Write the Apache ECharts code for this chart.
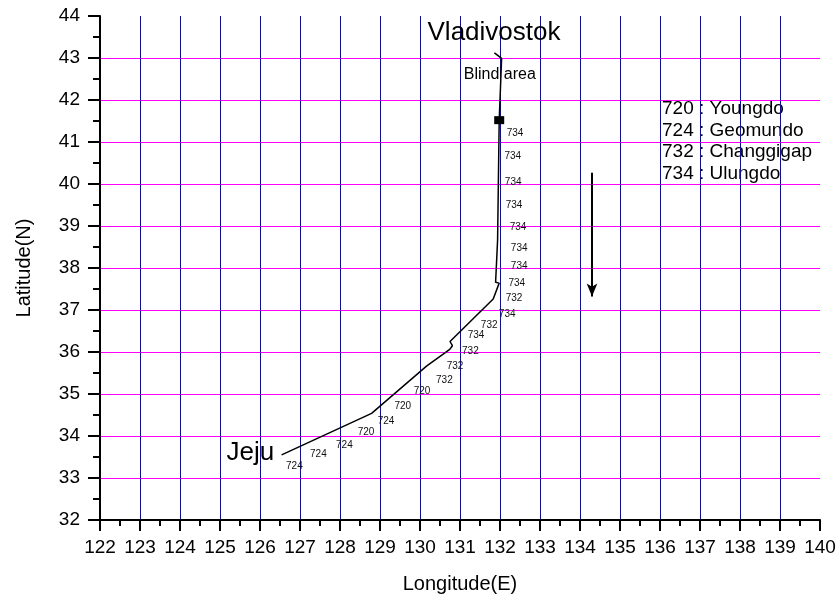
<!DOCTYPE html>
<html>
<head>
<meta charset="utf-8">
<script src="https://cdn.jsdelivr.net/npm/echarts@6/dist/echarts.min.js"></script>
<style>
    html, body { margin: 0; padding: 0; background: #fff; }
    #route_show { width: 839px; height: 599px; }
</style>
</head>
<body>
<div id="route_show"></div>
<script>
// 航迹 (Jeju -> Vladivostok)
var trackLon = [126.54, 128.79, 130.17, 130.58, 130.75, 130.81, 130.75, 131.83, 131.98, 131.89, 131.94, 131.98, 132.00, 132.04, 131.96, 131.86];
var trackLat = [33.55, 34.54, 35.67, 35.95, 36.07, 36.15, 36.25, 37.26, 37.64, 37.66, 38.67, 41.52, 42.00, 42.99, 43.05, 43.12];

// 盲区起点
var blindLon = [131.98];
var blindLat = [41.52];

// 沿途接收台站编号
var stationCode = ['724', '724', '724', '720', '724', '720', '720', '732', '732', '732', '734', '732', '734', '732', '734', '734', '734', '734', '734', '734', '734', '734'];
var stationLon = [126.86, 127.46, 128.11, 128.65, 129.15, 129.57, 130.05, 130.61, 130.875, 131.26, 131.40, 131.73, 132.18, 132.35, 132.42, 132.48, 132.48, 132.45, 132.35, 132.33, 132.32, 132.375];
var stationLat = [33.29, 33.57, 33.79, 34.10, 34.36, 34.72, 35.06, 35.33, 35.67, 36.01, 36.39, 36.63, 36.91, 37.29, 37.64, 38.05, 38.48, 38.98, 39.49, 40.05, 40.67, 41.22];

// 地名
var placeNames = ['Vladivostok', 'Jeju'];
var placeLon = [131.85, 125.76];
var placeLat = [43.61, 33.59];
var noteNames = ['Blind area'];
var noteLon = [131.995];
var noteLat = [42.61];

// 台站说明
var stationNotes = ['720 : Youngdo', '724 : Geomundo', '732 : Changgigap', '734 : Ulungdo'];

// 航向箭头
var arrowLon = [134.3, 134.3];
var arrowLat = [40.27, 37.32];

// 坐标轴
var lonMin = 122, lonMax = 140;
var latMin = 32, latMax = 44;

var FONT = 'Liberation Sans, Arial, sans-serif';

function zip(a, b) {
    var out = [];
    for (var i = 0; i < a.length; i++) {
        out.push([a[i], b[i]]);
    }
    return out;
}

function named(names, lon, lat) {
    var out = [];
    for (var i = 0; i < names.length; i++) {
        out.push({ value: [lon[i], lat[i]], name: names[i] });
    }
    return out;
}

// 纯文字标注, 不画点
function textLabel(size, color) {
    return {
        show: true,
        position: 'inside',
        formatter: '{b}',
        fontSize: size,
        color: color,
        textBorderWidth: 0,
        fontFamily: FONT
    };
}

var legendText = [];
for (var i = 0; i < stationNotes.length; i++) {
    legendText.push({
        type: 'text',
        left: 662,
        top: 99 + i * 21.8,
        style: {
            text: stationNotes[i],
            font: '19px ' + FONT,
            fill: '#000'
        }
    });
}

var myChart = echarts.init(document.getElementById('route_show'));

var option = {
    animation: false,
    backgroundColor: '#fff',
    textStyle: { fontFamily: FONT },
    grid: { left: 100, top: 16, right: 19, bottom: 79 },
    xAxis: {
        type: 'value',
        min: lonMin,
        max: lonMax,
        interval: 1,
        name: 'Longitude(E)',
        nameLocation: 'middle',
        nameGap: 54,
        nameTextStyle: { fontSize: 20, color: '#000', fontFamily: FONT },
        axisLine: { show: true, onZero: false, lineStyle: { color: '#000', width: 2 } },
        axisTick: { show: true, inside: false, length: 11, lineStyle: { color: '#000', width: 2 } },
        minorTick: { show: true, splitNumber: 2, length: 6, lineStyle: { color: '#000', width: 2 } },
        axisLabel: { fontSize: 19, color: '#000', margin: 18, fontFamily: FONT },
        splitLine: { show: true, showMinLine: false, showMaxLine: false, lineStyle: { color: '#0000ff', width: 1 } }
    },
    yAxis: {
        type: 'value',
        min: latMin,
        max: latMax,
        interval: 1,
        name: 'Latitude(N)',
        nameLocation: 'middle',
        nameRotate: 90,
        nameGap: 66,
        nameTextStyle: { fontSize: 20, color: '#000', fontFamily: FONT },
        axisLine: { show: true, onZero: false, lineStyle: { color: '#000', width: 2 } },
        axisTick: { show: true, inside: false, length: 12, lineStyle: { color: '#000', width: 2 } },
        minorTick: { show: true, splitNumber: 2, length: 7, lineStyle: { color: '#000', width: 2 } },
        axisLabel: { fontSize: 19, color: '#000', margin: 20, fontFamily: FONT },
        splitLine: { show: true, showMinLine: false, showMaxLine: false, lineStyle: { color: '#ff00ff', width: 1 } }
    },
    graphic: legendText,
    series: [
        {
            name: 'track',
            type: 'line',
            data: zip(trackLon, trackLat),
            showSymbol: false,
            symbol: 'none',
            lineStyle: { color: '#000', width: 1.5 },
            z: 3,
            markLine: {
                silent: true,
                symbol: ['none', 'arrow'],
                symbolSize: [8, 13],
                label: { show: false },
                lineStyle: { color: '#000', width: 2, type: 'solid' },
                data: [[{ coord: [arrowLon[0], arrowLat[0]] }, { coord: [arrowLon[1], arrowLat[1]] }]]
            }
        },
        {
            name: 'blind',
            type: 'scatter',
            data: zip(blindLon, blindLat),
            symbol: 'rect',
            symbolSize: [10, 8],
            itemStyle: { color: '#000', opacity: 1 },
            z: 4
        },
        {
            name: 'station',
            type: 'scatter',
            data: named(stationCode, stationLon, stationLat),
            symbolSize: 0,
            itemStyle: { color: '#000', opacity: 1 },
            label: textLabel(10, '#111')
        },
        {
            name: 'place',
            type: 'scatter',
            data: named(placeNames, placeLon, placeLat),
            symbolSize: 0,
            itemStyle: { color: '#000', opacity: 1 },
            label: textLabel(26, '#000')
        },
        {
            name: 'note',
            type: 'scatter',
            data: named(noteNames, noteLon, noteLat),
            symbolSize: 0,
            itemStyle: { color: '#000', opacity: 1 },
            label: textLabel(16, '#000')
        }
    ]
};

myChart.setOption(option);
</script>
</body>
</html>
